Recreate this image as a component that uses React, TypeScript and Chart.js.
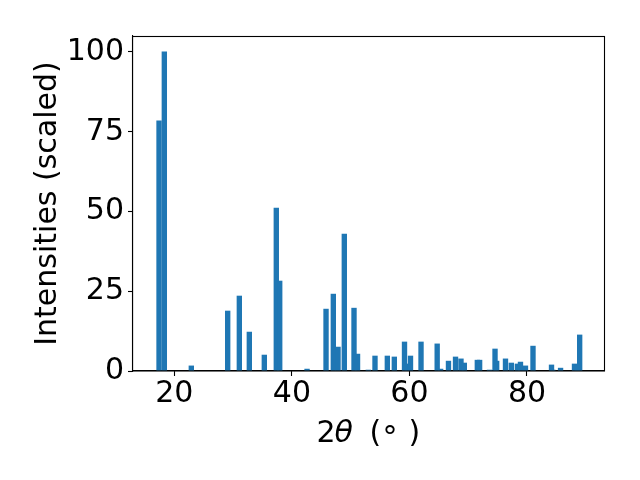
import React, { useEffect, useRef } from "react";
import { Chart, registerables } from "chart.js";

Chart.register(...registerables);

// 2θ positions (degrees) of the reflections
const twoTheta = [
  17.4, 18.3, 22.89, 29.08, 31.06, 32.76, 35.31, 37.35, 37.93, 42.58,
  45.81, 47.05, 47.85, 48.92, 50.57, 51.17, 53.0, 54.14, 56.24, 57.43,
  59.16, 59.67, 60.18, 61.97, 64.72, 65.31, 66.64, 67.84, 68.77, 69.34,
  71.55, 71.94, 73.62, 74.56, 74.84, 76.34, 77.33, 78.36, 78.89, 79.74,
  81.02, 84.17, 84.4, 85.71, 88.08, 88.55, 88.96,
];
// scaled intensities
const intensity = [
  78.4, 100, 1.6, 18.8, 23.5, 12.2, 5.0, 51.1, 28.2, 0.6,
  19.4, 24.1, 7.5, 42.9, 19.7, 5.3, 0.3, 4.7, 4.7, 4.4,
  9.1, 2.2, 4.7, 9.1, 8.5, 0.6, 3.1, 4.4, 3.8, 2.5,
  3.4, 3.4, 0.3, 6.9, 3.1, 3.8, 2.5, 2.2, 2.8, 1.6,
  7.8, 1.9, 0.3, 0.9, 2.2, 1.6, 11.3,
];
const xTicks = [20, 40, 60, 80];
const yTicks = [0, 25, 50, 75, 100];
const xLabelParts = ["2", "θ", "(", "°", ")"];
const yLabel = "Intensities (scaled)";

const FONT = "DejaVu Sans";

const framePlugin = {
  id: "frameAndLabels",
  afterDraw(chart: any) {
    const { ctx, chartArea } = chart;
    const { left, right, top, bottom } = chartArea;
    ctx.save();
    // full box (spines)
    ctx.strokeStyle = "#000";
    ctx.lineWidth = 1.1;
    ctx.strokeRect(Math.round(left) - 0.5, Math.round(top) + 0.5, Math.round(right - left) + 1, Math.round(bottom - top) - 0.5);

    // x label: "2θ ( ° )" with italic θ, laid out by ink gaps
    const normal = `30px "${FONT}"`;
    const italic = `italic 30px "${FONT}"`;
    const fonts = [normal, italic, normal, normal, normal];
    const gaps = [0, 1, 19, 5, 15];
    const dy = [0, 0, 0, 5, 0];
    ctx.fillStyle = "#000";
    ctx.textAlign = "left";
    ctx.textBaseline = "alphabetic";
    const items: { x: number; l: number; r: number }[] = [];
    let inkRight = 0;
    xLabelParts.forEach((t, i) => {
      ctx.font = fonts[i];
      const m = ctx.measureText(t);
      const x = i === 0 ? 0 : inkRight + gaps[i] + m.actualBoundingBoxLeft;
      const l = x - m.actualBoundingBoxLeft;
      const r = x + m.actualBoundingBoxRight;
      items.push({ x, l, r });
      inkRight = r;
    });
    const totalL = items[0].l;
    const totalR = items[items.length - 1].r;
    const shift = (left + right) / 2 - (totalL + totalR) / 2;
    const base = bottom + 71;
    xLabelParts.forEach((t, i) => {
      ctx.font = fonts[i];
      ctx.fillText(t, items[i].x + shift, base + dy[i]);
    });

    // y label
    ctx.translate(56, (top + bottom) / 2);
    ctx.rotate(-Math.PI / 2);
    ctx.font = normal;
    ctx.textAlign = "center";
    ctx.textBaseline = "alphabetic";
    ctx.fillText(yLabel, 0, 0);
    ctx.restore();
  },
};

export default function App() {
  const ref = useRef<HTMLCanvasElement | null>(null);

  useEffect(() => {
    document.body.style.margin = "0";
    const canvas = ref.current;
    if (!canvas) return;
    const chart = new Chart(canvas, {
      type: "bar",
      data: {
        datasets: [
          {
            data: twoTheta.map((x, i) => ({ x, y: intensity[i] })),
            backgroundColor: "#1f77b4",
            borderWidth: 0,
            barThickness: 4.7,
            grouped: false,
          } as any,
        ],
      },
      options: {
        responsive: false,
        animation: false,
        devicePixelRatio: 1,
        layout: { padding: { top: 36, right: 36, left: 0, bottom: 0 } },
        plugins: {
          legend: { display: false },
          tooltip: { enabled: false },
          title: { display: false },
        },
        scales: {
          x: {
            type: "linear",
            min: 12.97,
            max: 93.1,
            offset: false,
            afterBuildTicks: (s: any) => {
              s.ticks = xTicks.map((v) => ({ value: v }));
            },
            afterFit: (s: any) => {
              s.height = 109;
            },
            grid: {
              display: true,
              offset: false,
              drawOnChartArea: false,
              drawTicks: true,
              tickLength: 5,
              tickColor: "#000",
              tickWidth: 1.1,
            },
            border: { display: true, color: "#000", width: 1.1 },
            ticks: {
              color: "#000",
              padding: 0,
              maxRotation: 0,
              autoSkip: false,
              font: { family: FONT, size: 30, lineHeight: 1.2 },
            },
          },
          y: {
            type: "linear",
            min: 0,
            max: 105,
            afterBuildTicks: (s: any) => {
              s.ticks = yTicks.map((v) => ({ value: v }));
            },
            afterFit: (s: any) => {
              s.width = 133;
            },
            grid: {
              display: true,
              drawOnChartArea: false,
              drawTicks: true,
              tickLength: 5,
              tickColor: "#000",
              tickWidth: 1.1,
            },
            border: { display: true, color: "#000", width: 1.1 },
            ticks: {
              color: "#000",
              padding: 4,
              autoSkip: false,
              font: { family: FONT, size: 30, lineHeight: 1.2 },
            },
          },
        },
      } as any,
      plugins: [framePlugin],
    });
    return () => chart.destroy();
  }, []);

  return (
    <div style={{ width: 640, height: 480 }}>
      <canvas ref={ref} width={640} height={480} style={{ display: "block" }} />
    </div>
  );
}
